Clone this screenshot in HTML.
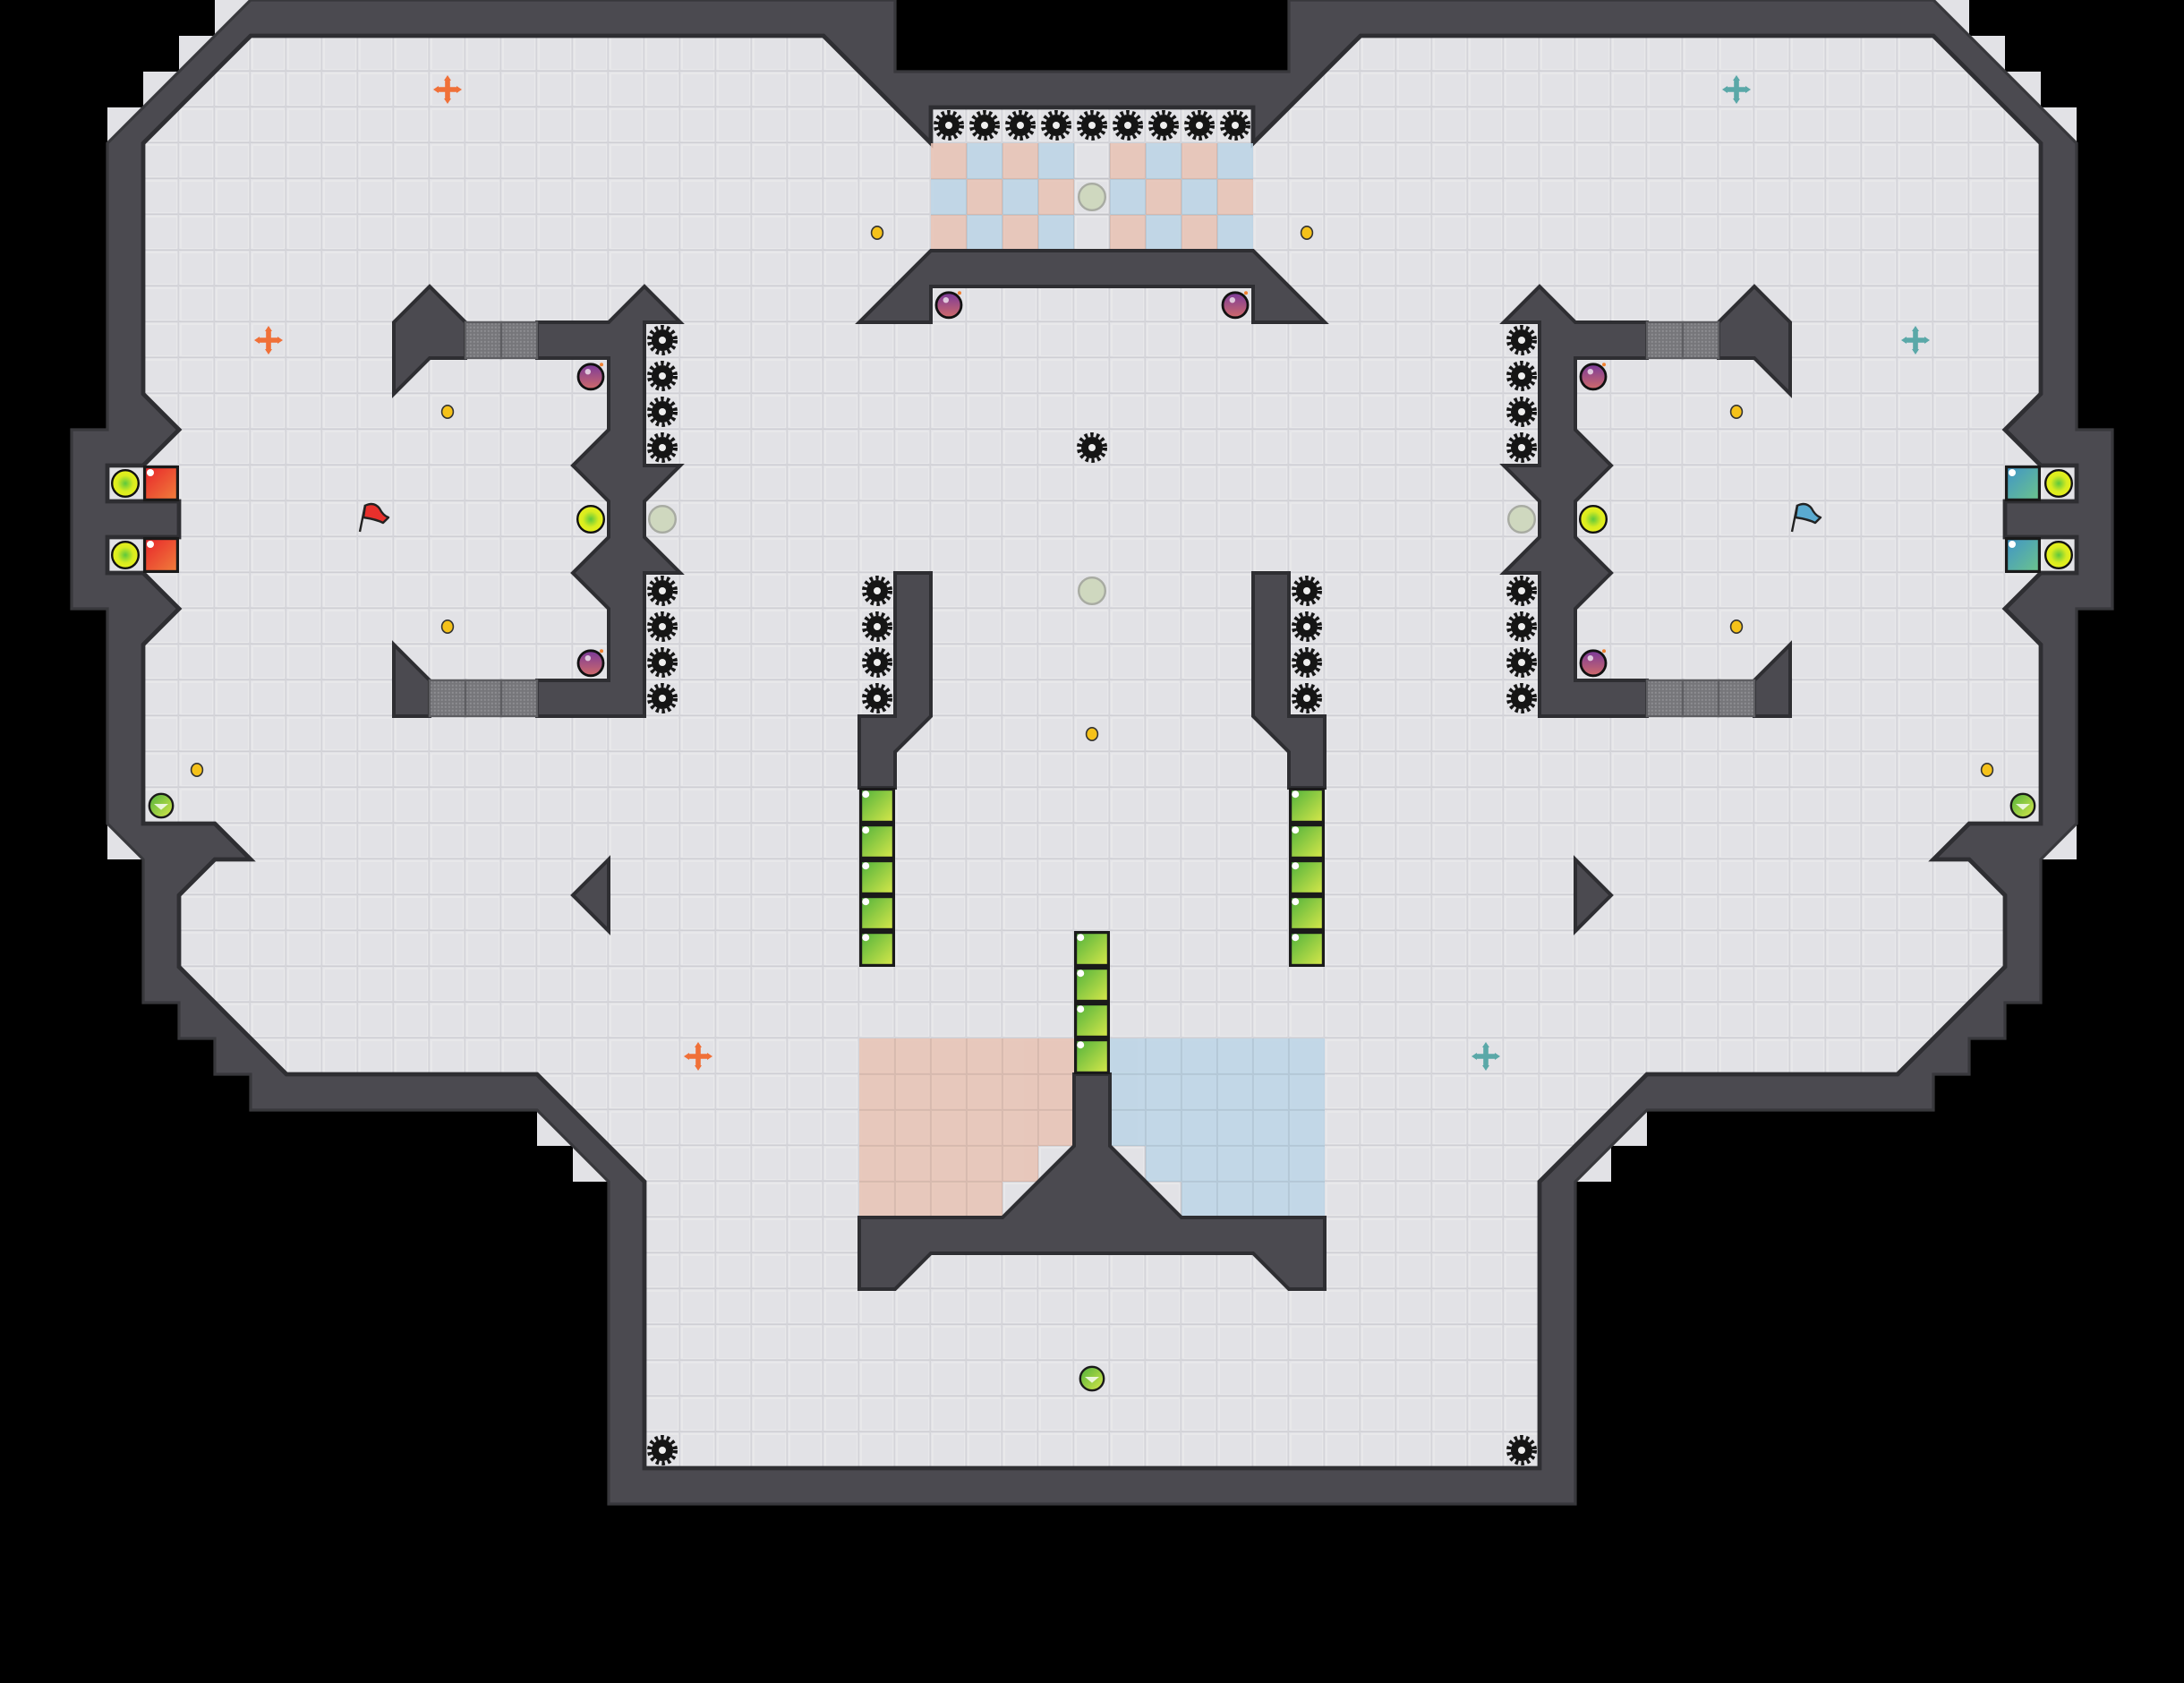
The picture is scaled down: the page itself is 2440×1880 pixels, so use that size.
<!DOCTYPE html>
<html><head><meta charset="utf-8"><style>html,body{margin:0;padding:0;background:#000}svg{display:block}</style></head>
<body>
<svg xmlns="http://www.w3.org/2000/svg" width="2440" height="1880" viewBox="0 0 61 47">
<defs>
<pattern id="fl" patternUnits="userSpaceOnUse" width="1" height="1">
<rect width="1" height="1" fill="#e2e2e6"/>
<rect x="0.05" y="0.05" width="0.9" height="0.9" fill="none" stroke="#e9e9ec" stroke-width="0.04"/>
<rect x="0" y="0.96" width="1" height="0.04" fill="#cfcfd4"/>
<rect x="0.96" y="0" width="0.04" height="1" fill="#d4d4d9"/>
</pattern>
<pattern id="gp" patternUnits="userSpaceOnUse" width="0.1" height="0.1">
<rect width="0.1" height="0.1" fill="#76767a"/><rect x="0.02" y="0.02" width="0.05" height="0.05" fill="#8e8e92"/>
</pattern>
<linearGradient id="gg" x1="0" y1="0" x2="1" y2="1"><stop offset="0" stop-color="#4fb13c"/><stop offset="1" stop-color="#d8e84a"/></linearGradient>
<linearGradient id="rg" x1="0" y1="0" x2="1" y2="1"><stop offset="0" stop-color="#e8242a"/><stop offset="1" stop-color="#f0803c"/></linearGradient>
<linearGradient id="bg" x1="0" y1="0" x2="1" y2="1"><stop offset="0" stop-color="#3f94c8"/><stop offset="1" stop-color="#6cc48c"/></linearGradient>
<radialGradient id="yg"><stop offset="0" stop-color="#5ec83c"/><stop offset="0.6" stop-color="#d8ec20"/><stop offset="1" stop-color="#e8f01c"/></radialGradient>
<linearGradient id="pg" x1="0" y1="0" x2="0" y2="1"><stop offset="0" stop-color="#7a3a9a"/><stop offset="1" stop-color="#d06a6a"/></linearGradient>
<g id="spk"><circle cx="0.5" cy="0.5" r="0.36" fill="none" stroke="#151515" stroke-width="0.13" stroke-dasharray="0.085 0.08"/><circle cx="0.5" cy="0.5" r="0.3" fill="#151515"/><circle cx="0.5" cy="0.5" r="0.1" fill="#eee"/></g>
<g id="yb"><circle cx="0.5" cy="0.5" r="0.37" fill="url(#yg)" stroke="#111" stroke-width="0.06"/></g>
<g id="gb"><circle cx="0.5" cy="0.5" r="0.37" fill="#cfd8bf" stroke="#a8aba2" stroke-width="0.06"/></g>
<g id="bm"><circle cx="0.5" cy="0.52" r="0.35" fill="url(#pg)" stroke="#111" stroke-width="0.07"/><circle cx="0.42" cy="0.38" r="0.08" fill="#fff" opacity="0.7"/><circle cx="0.8" cy="0.18" r="0.05" fill="#f08030"/></g>
<g id="dot"><ellipse cx="0.5" cy="0.5" rx="0.16" ry="0.18" fill="#f5c21a" stroke="#333" stroke-width="0.04"/></g>
<g id="bst"><circle cx="0.5" cy="0.5" r="0.33" fill="url(#gg)" stroke="#1a1a1a" stroke-width="0.06"/><path d="M0.3 0.45 L0.7 0.45 L0.5 0.62Z" fill="#fff" opacity="0.8"/></g>
<g id="blk"><rect x="0.04" y="0.04" width="0.92" height="0.92" fill="url(#gg)" stroke="#1a1a1a" stroke-width="0.08"/><circle cx="0.18" cy="0.18" r="0.1" fill="#fff"/></g>
<g id="grt"><rect width="1" height="1" fill="url(#gp)" stroke="#5e5e62" stroke-width="0.06"/></g>
<g id="spo"><path d="M0.5 0.2 V0.8 M0.2 0.5 H0.8" stroke="#f07038" stroke-width="0.14"/><path d="M0.5 0.1 L0.4 0.25 H0.6Z M0.5 0.9 L0.4 0.75 H0.6Z M0.1 0.5 L0.25 0.4 V0.6Z M0.9 0.5 L0.75 0.4 V0.6Z" fill="#f07038"/></g>
<g id="spb"><path d="M0.5 0.2 V0.8 M0.2 0.5 H0.8" stroke="#5aa8a8" stroke-width="0.14"/><path d="M0.5 0.1 L0.4 0.25 H0.6Z M0.5 0.9 L0.4 0.75 H0.6Z M0.1 0.5 L0.25 0.4 V0.6Z M0.9 0.5 L0.75 0.4 V0.6Z" fill="#5aa8a8"/></g>
</defs>
<rect width="61" height="47" fill="#000"/>
<g fill="#e2e2e6">
<rect x="6" y="0" width="1" height="1"/><rect x="5" y="1" width="1" height="1"/><rect x="4" y="2" width="1" height="1"/><rect x="3" y="3" width="1" height="1"/>
<rect x="3" y="23" width="1" height="1"/><rect x="15" y="31" width="1" height="1"/><rect x="16" y="32" width="1" height="1"/>
<rect x="54" y="0" width="1" height="1"/><rect x="55" y="1" width="1" height="1"/><rect x="56" y="2" width="1" height="1"/><rect x="57" y="3" width="1" height="1"/>
<rect x="57" y="23" width="1" height="1"/><rect x="45" y="31" width="1" height="1"/><rect x="44" y="32" width="1" height="1"/>
</g>
<polygon fill="#4b4a50" stroke="#38383c" stroke-width="0.08" points="25,2 25,0 7,0 3,4 3,12 2,12 2,17 3,17 3,23 4,24 4,28 5,28 5,29 6,29 6,30 7,30 7,31 15,31 17,33 17,42 44,42 44,33 46,31 54,31 54,30 55,30 55,29 56,29 56,28 57,28 57,24 58,23 58,17 59,17 59,12 58,12 58,4 54,0 36,0 36,2"/>
<polygon fill="url(#fl)" stroke="#2e2e32" stroke-width="0.12" points="26,3 26,4 23,1 7,1 4,4 4,11 5,12 4,13 3,13 3,14 5,14 5,15 3,15 3,16 4,16 5,17 4,18 4,23 6,23 7,24 6,24 5,25 5,27 8,30 15,30 18,33 18,41 43,41 43,33 46,30 53,30 56,27 56,25 55,24 54,24 55,23 57,23 57,18 56,17 57,16 58,16 58,15 56,15 56,14 58,14 58,13 57,13 56,12 57,11 57,4 54,1 38,1 35,4 35,3"/>
<g opacity="0.85">
<g fill="#e8c3b4">
<rect x="26" y="4" width="1" height="1"/><rect x="28" y="4" width="1" height="1"/><rect x="31" y="4" width="1" height="1"/><rect x="33" y="4" width="1" height="1"/>
<rect x="27" y="5" width="1" height="1"/><rect x="29" y="5" width="1" height="1"/><rect x="32" y="5" width="1" height="1"/><rect x="34" y="5" width="1" height="1"/>
<rect x="26" y="6" width="1" height="1"/><rect x="28" y="6" width="1" height="1"/><rect x="31" y="6" width="1" height="1"/><rect x="33" y="6" width="1" height="1"/>
</g>
<g fill="#bcd5e6">
<rect x="27" y="4" width="1" height="1"/><rect x="29" y="4" width="1" height="1"/><rect x="32" y="4" width="1" height="1"/><rect x="34" y="4" width="1" height="1"/>
<rect x="26" y="5" width="1" height="1"/><rect x="28" y="5" width="1" height="1"/><rect x="31" y="5" width="1" height="1"/><rect x="33" y="5" width="1" height="1"/>
<rect x="27" y="6" width="1" height="1"/><rect x="29" y="6" width="1" height="1"/><rect x="32" y="6" width="1" height="1"/><rect x="34" y="6" width="1" height="1"/>
</g>
<polygon fill="#e8c3b4" points="24,29 30,29 30,32 29,32 29,33 28,33 28,34 24,34"/>
<polygon fill="#bcd5e6" points="31,29 37,29 37,34 33,34 33,33 32,33 32,32 31,32"/>
</g>
<g stroke="#000" stroke-opacity="0.06" stroke-width="0.05">
<path d="M27 4V7M28 4V7M29 4V7M30 4V7M31 4V7M32 4V7M33 4V7M34 4V7M26 5H35M26 6H35"/>
<path d="M25 29V34M26 29V34M27 29V34M28 29V34M29 29V34M32 29V34M33 29V34M34 29V34M35 29V34M36 29V34M24 30H37M24 31H37M24 32H37M24 33H37"/>
</g>
<g fill="#4b4a50" stroke="#2e2e32" stroke-width="0.1" stroke-linejoin="miter">
<polygon points="11,9 12,8 13,9 13,10 12,10 11,11"/>
<polygon points="15,9 17,9 18,8 19,9 18,9 18,13 19,13 18,14 18,15 19,16 18,16 18,20 15,20 15,19 17,19 17,17 16,16 17,15 17,14 16,13 17,12 17,10 15,10"/>
<polygon points="11,18 12,19 12,20 11,20"/>
<polygon points="25,16 26,16 26,20 25,21 25,22 24,22 24,20 25,20"/>
<polygon points="17,24 16,25 17,26"/>
<polygon points="50,9 49,8 48,9 48,10 49,10 50,11"/>
<polygon points="46,9 44,9 43,8 42,9 43,9 43,13 42,13 43,14 43,15 42,16 43,16 43,20 46,20 46,19 44,19 44,17 45,16 44,15 44,14 45,13 44,12 44,10 46,10"/>
<polygon points="50,18 49,19 49,20 50,20"/>
<polygon points="36,16 35,16 35,20 36,21 36,22 37,22 37,20 36,20"/>
<polygon points="44,24 45,25 44,26"/>
<polygon points="26,7 35,7 37,9 35,9 35,8 26,8 26,9 24,9"/>
<polygon points="30,30 31,30 31,32 33,34 37,34 37,36 36,36 35,35 26,35 25,36 24,36 24,34 28,34 30,32"/>
</g>
<use href="#grt" x="13" y="9"/><use href="#grt" x="14" y="9"/><use href="#grt" x="12" y="19"/><use href="#grt" x="13" y="19"/><use href="#grt" x="14" y="19"/>
<use href="#grt" x="46" y="9"/><use href="#grt" x="47" y="9"/><use href="#grt" x="46" y="19"/><use href="#grt" x="47" y="19"/><use href="#grt" x="48" y="19"/>
<use href="#spk" x="26" y="3"/><use href="#spk" x="27" y="3"/><use href="#spk" x="28" y="3"/><use href="#spk" x="29" y="3"/><use href="#spk" x="30" y="3"/><use href="#spk" x="31" y="3"/><use href="#spk" x="32" y="3"/><use href="#spk" x="33" y="3"/><use href="#spk" x="34" y="3"/>
<use href="#spk" x="18" y="9"/><use href="#spk" x="18" y="10"/><use href="#spk" x="18" y="11"/><use href="#spk" x="18" y="12"/>
<use href="#spk" x="18" y="16"/><use href="#spk" x="18" y="17"/><use href="#spk" x="18" y="18"/><use href="#spk" x="18" y="19"/>
<use href="#spk" x="42" y="9"/><use href="#spk" x="42" y="10"/><use href="#spk" x="42" y="11"/><use href="#spk" x="42" y="12"/>
<use href="#spk" x="42" y="16"/><use href="#spk" x="42" y="17"/><use href="#spk" x="42" y="18"/><use href="#spk" x="42" y="19"/>
<use href="#spk" x="24" y="16"/><use href="#spk" x="24" y="17"/><use href="#spk" x="24" y="18"/><use href="#spk" x="24" y="19"/>
<use href="#spk" x="36" y="16"/><use href="#spk" x="36" y="17"/><use href="#spk" x="36" y="18"/><use href="#spk" x="36" y="19"/>
<use href="#spk" x="30" y="12"/><use href="#spk" x="18" y="40"/><use href="#spk" x="42" y="40"/>
<use href="#blk" x="24" y="22"/><use href="#blk" x="24" y="23"/><use href="#blk" x="24" y="24"/><use href="#blk" x="24" y="25"/><use href="#blk" x="24" y="26"/>
<use href="#blk" x="36" y="22"/><use href="#blk" x="36" y="23"/><use href="#blk" x="36" y="24"/><use href="#blk" x="36" y="25"/><use href="#blk" x="36" y="26"/>
<use href="#blk" x="30" y="26"/><use href="#blk" x="30" y="27"/><use href="#blk" x="30" y="28"/><use href="#blk" x="30" y="29"/>
<rect x="4.04" y="13.04" width="0.92" height="0.92" fill="url(#rg)" stroke="#1a1a1a" stroke-width="0.08"/>
<rect x="4.04" y="15.04" width="0.92" height="0.92" fill="url(#rg)" stroke="#1a1a1a" stroke-width="0.08"/>
<rect x="56.04" y="13.04" width="0.92" height="0.92" fill="url(#bg)" stroke="#1a1a1a" stroke-width="0.08"/>
<rect x="56.04" y="15.04" width="0.92" height="0.92" fill="url(#bg)" stroke="#1a1a1a" stroke-width="0.08"/>
<g fill="#fff"><circle cx="4.2" cy="13.2" r="0.1"/><circle cx="4.2" cy="15.2" r="0.1"/><circle cx="56.2" cy="13.2" r="0.1"/><circle cx="56.2" cy="15.2" r="0.1"/></g>
<use href="#yb" x="3" y="13"/><use href="#yb" x="3" y="15"/><use href="#yb" x="16" y="14"/>
<use href="#yb" x="57" y="13"/><use href="#yb" x="57" y="15"/><use href="#yb" x="44" y="14"/>
<use href="#gb" x="18" y="14"/><use href="#gb" x="42" y="14"/><use href="#gb" x="30" y="5"/><use href="#gb" x="30" y="16"/>
<use href="#bm" x="26" y="8"/><use href="#bm" x="34" y="8"/><use href="#bm" x="16" y="10"/><use href="#bm" x="16" y="18"/><use href="#bm" x="44" y="10"/><use href="#bm" x="44" y="18"/>
<use href="#dot" x="24" y="6"/><use href="#dot" x="36" y="6"/><use href="#dot" x="12" y="11"/><use href="#dot" x="12" y="17"/><use href="#dot" x="48" y="11"/><use href="#dot" x="48" y="17"/><use href="#dot" x="5" y="21"/><use href="#dot" x="55" y="21"/><use href="#dot" x="30" y="20"/>
<use href="#bst" x="4" y="22"/><use href="#bst" x="56" y="22"/><use href="#bst" x="30" y="38"/>
<use href="#spo" x="12" y="2"/><use href="#spo" x="7" y="9"/><use href="#spo" x="19" y="29"/>
<use href="#spb" x="48" y="2"/><use href="#spb" x="53" y="9"/><use href="#spb" x="41" y="29"/>
<g stroke="#222" stroke-width="0.06" stroke-linejoin="round">
<path d="M10.05 14.85 L10.2 14.1" fill="none"/>
<path d="M10.2 14.12 Q10.45 14.0 10.6 14.2 Q10.7 14.4 10.85 14.45 L10.7 14.6 Q10.5 14.5 10.15 14.45Z" fill="#e8302c"/>
<path d="M50.05 14.85 L50.2 14.1" fill="none"/>
<path d="M50.2 14.12 Q50.45 14.0 50.6 14.2 Q50.7 14.4 50.85 14.45 L50.7 14.6 Q50.5 14.5 50.15 14.45Z" fill="#5aaad0"/>
</g>
</svg>
</body></html>
